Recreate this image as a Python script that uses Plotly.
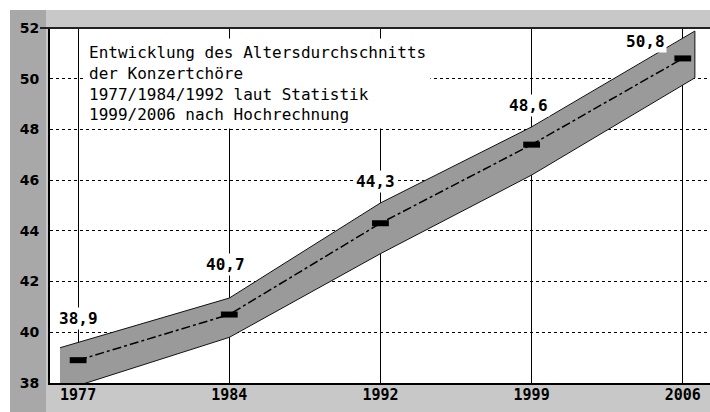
import plotly.graph_objects as go

# ---- data ----
years = ["1977", "1984", "1992", "1999", "2006"]
avg_age = [38.9, 40.7, 44.3, 47.4, 50.8]          # marker positions as drawn
value_labels = ["38,9", "40,7", "44,3", "48,6", "50,8"]
band_upper = [39.6, 41.35, 45.1, 48.1, 51.6]
band_lower = [37.9, 39.8, 43.1, 46.2, 49.75]
y_ticks = [38, 40, 42, 44, 46, 48, 50, 52]
title_lines = ["Entwicklung des Altersdurchschnitts",
               "der Konzertchöre",
               "1977/1984/1992 laut Statistik",
               "1999/2006 nach Hochrechnung"]

# ---- geometry helpers (pixels -> paper) ----
W, H = 710, 412
ML, MR, MT, MB = 50, 0, 28, 29
PW, PH = W - ML - MR, H - MT - MB
def px(x): return (x - ML) / PW
def py(y): return (H - MB - y) / PH

idx = list(range(len(years)))
left_over, right_over = 0.12, 0.08
def extend(vals):
    lo = vals[0] - (vals[1] - vals[0]) * left_over
    hi = vals[-1] + (vals[-1] - vals[-2]) * right_over
    return [lo] + vals + [hi]
bx = [-left_over] + idx + [idx[-1] + right_over]
bu = extend(band_upper)
bl = extend(band_lower)

fig = go.Figure()
fig.add_trace(go.Scatter(
    x=bx + bx[::-1], y=bu + bl[::-1], mode="lines", fill="toself",
    fillcolor="#9a9a9a", line=dict(color="#111111", width=1),
    hoverinfo="skip", showlegend=False))
fig.add_trace(go.Scatter(
    x=idx, y=avg_age, mode="lines+markers",
    line=dict(color="black", width=1.5, dash="dashdot"),
    marker=dict(symbol="line-ew", size=12, line=dict(color="black", width=6)),
    showlegend=False))

label_shift = [(0, 42), (-4, 50), (-5, 42), (-3, 39), (-37, 17)]
for i, (t, (dx, dy)) in enumerate(zip(value_labels, label_shift)):
    fig.add_annotation(x=idx[i], y=avg_age[i], text=t, showarrow=False,
                       xshift=dx, yshift=dy, bgcolor="white", borderpad=1,
                       font=dict(family="DejaVu Sans Mono", size=16, color="black",
                                 weight="bold"))

fig.add_annotation(xref="paper", yref="paper", x=px(84), y=py(38),
                   xanchor="left", yanchor="top", align="left", showarrow=False,
                   text="<br>".join(title_lines), bgcolor="white", borderpad=4,
                   font=dict(family="DejaVu Sans Mono", size=16, color="black"))

shapes = [
    dict(type="rect", xref="paper", yref="paper", layer="below",
         x0=px(10), x1=px(W), y0=py(H), y1=py(10),
         fillcolor="#c8c8c8", line=dict(width=0)),
    dict(type="rect", xref="paper", yref="paper", layer="below",
         x0=px(10), x1=px(46), y0=py(H), y1=py(10),
         fillcolor="#a8a8a8", line=dict(width=0)),
    dict(type="rect", xref="paper", yref="paper", layer="below",
         x0=0, x1=1, y0=0, y1=1, fillcolor="white", line=dict(width=0)),
    dict(type="line", xref="paper", yref="paper",
         x0=px(40), x1=1, y0=1, y1=1, line=dict(color="#222222", width=2)),
]

fig.update_layout(
    width=W, height=H, autosize=False,
    margin=dict(l=ML, r=MR, t=MT, b=MB, pad=0),
    paper_bgcolor="white", plot_bgcolor="rgba(0,0,0,0)",
    shapes=shapes, showlegend=False,
    xaxis=dict(range=[-0.186, 4.18], tickvals=idx, ticktext=years,
               showgrid=True, gridcolor="black", gridwidth=1,
               showline=True, linecolor="black", linewidth=2,
               zeroline=False, ticks="", ticklabelstandoff=-3,
               tickfont=dict(family="DejaVu Sans Mono", size=15, color="black",
                             weight="bold")),
    yaxis=dict(range=[38, 52], tickvals=y_ticks,
               showgrid=True, gridcolor="black", gridwidth=1, griddash="dot",
               showline=True, linecolor="black", linewidth=2,
               zeroline=False, ticks="", ticklabelstandoff=6,
               tickfont=dict(family="DejaVu Sans", size=14, color="black",
                             weight="bold")),
)

fig.write_html("out.html", config={"displayModeBar": False},
               post_script="document.body.style.margin='0';"
                           "document.body.style.overflow='hidden';")
